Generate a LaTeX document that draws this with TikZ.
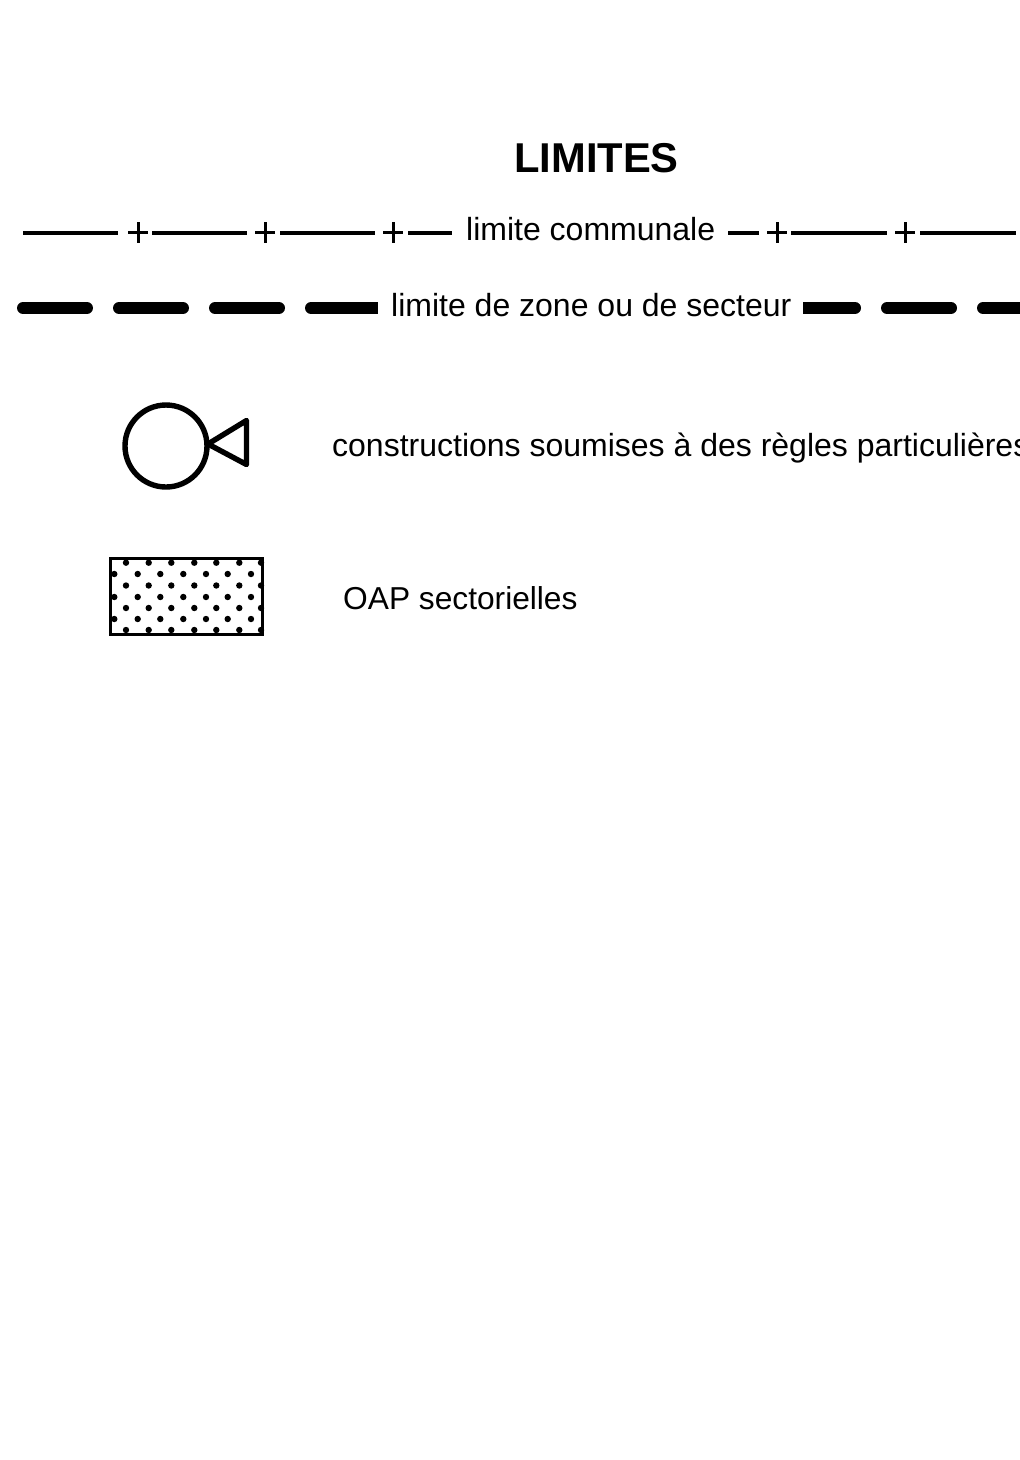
\documentclass[tikz,border=0pt]{standalone}
\usepackage{fontspec}
\setmainfont{Liberation Sans}
\tikzset{
  lbl/.style={anchor=base west,inner sep=0pt,font=\fontsize{32}{36}\selectfont},
  thin seg/.style={line width=4pt,line cap=butt},
  cross/.style={line width=3pt},
  thick seg/.style={line width=12pt,line cap=round},
  thick butt/.style={line width=12pt,line cap=butt},
  symb/.style={line width=5.4pt,line join=round},
  dot/.style={fill=black,draw=none,circle,minimum size=6.4pt,inner sep=0pt}
}
\begin{document}
\begin{tikzpicture}[x=1pt,y=-1pt]
\useasboundingbox (0,0) rectangle (1020,1460);
\begin{scope}
\clip (0,0) rectangle (1020,1460);
\fill[white] (0,0) rectangle (1020,1460);
\node[anchor=base west,inner sep=0pt,font=\fontsize{41.7}{50}\selectfont\bfseries] (title) at (514,172) {LIMITES};
% limite communale
\foreach \a/\b in {23/118,152/247,280/375,408/452,728/759,791/887,920/1016}
  \draw[thin seg] (\a,232.5) -- (\b,232.5);
\foreach \c in {138,265,393,777,905}{
  \draw[cross] (\c-10,232.5) -- (\c+10,232.5);
  \draw[cross] (\c,222) -- (\c,243);
}
\node[lbl] (communale) at (466,240) {limite communale};
% limite de zone
\foreach \a/\b in {23/87,119/183,215/279,887/951,983/1040}
  \draw[thick seg] (\a,308) -- (\b,308);
\draw[thick seg] (311,308) -- (360,308);
\draw[thick butt] (350,308) -- (378,308);
\draw[thick seg] (855,308) -- (840,308);
\draw[thick butt] (803,308) -- (850,308);
\node[lbl] (zone) at (391,316) {limite de zone ou de secteur};
% constructions
\draw[symb] (166,446) circle (41);
\draw[symb] (208,444) -- (246.5,420.5) -- (246.5,464.5) -- cycle;
\node[lbl] (constr) at (332,456) {constructions soumises à des règles particulières};
% OAP
\foreach \x in {126,148.7,171.3,194.3,216.3,239.3,261}
  \foreach \y in {562.7,585.5,608,630}
    \node[dot] at (\x,\y) {};
\foreach \x in {114.3,137.7,160.3,183.3,206,227.7,251}
  \foreach \y in {574,597,619}
    \node[dot] at (\x,\y) {};
\draw[line width=3pt] (110,558) rectangle (262.5,634);
\node[lbl,font=\fontsize{31.7}{36}\selectfont] (oap) at (343,609) {OAP sectorielles};
\end{scope}
\end{tikzpicture}
\end{document}
